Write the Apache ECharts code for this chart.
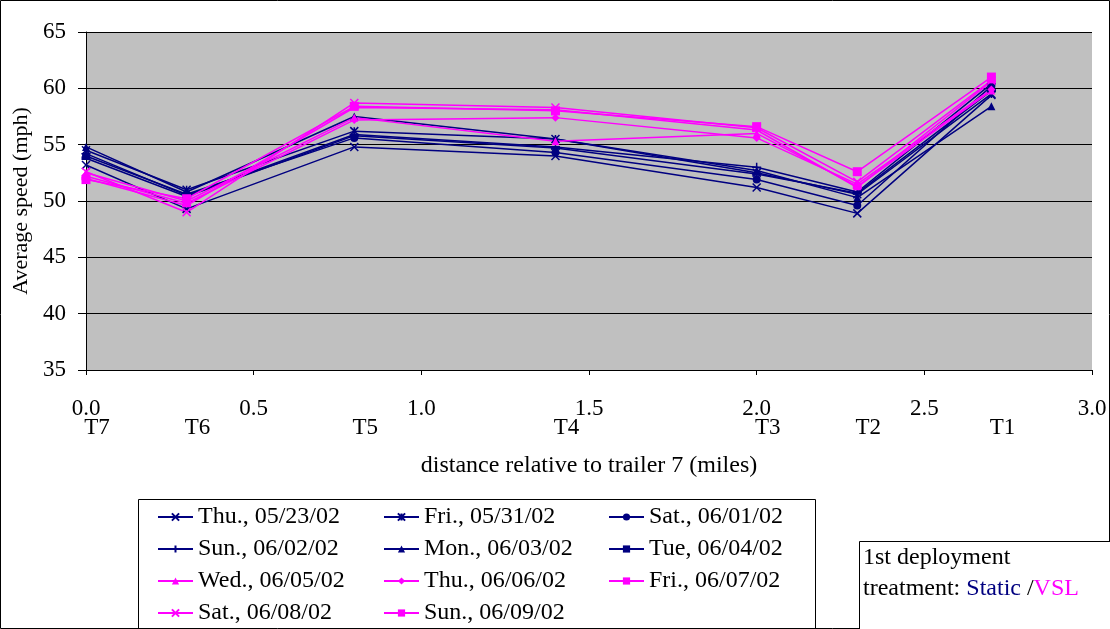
<!DOCTYPE html>
<html>
<head>
<meta charset="utf-8">
<script src="https://cdn.jsdelivr.net/npm/echarts@6/dist/echarts.min.js"></script>
<style>
  html, body { margin: 0; padding: 0; background: #fff; }
  #chart { width: 1110px; height: 629px; }
</style>
</head>
<body>
<div id="chart"></div>
<script>
// trailer positions (miles from trailer 7) and names
const xPositions = [0, 0.3, 0.8, 1.4, 2.0, 2.3, 2.7];
const trailerNames = ["T7", "T6", "T5", "T4", "T3", "T2", "T1"];
const yTicks = [35, 40, 45, 50, 55, 60, 65];

// static treatment days
const thu0523 = [53.2, 49.3, 54.8, 54.0, 51.2, 48.9, 59.4];
const fri0531 = [54.5, 51.0, 56.2, 55.5, 52.5, 50.6, 59.5];
const sat0601 = [54.0, 50.6, 55.6, 54.3, 51.9, 49.6, 60.2];
const sun0602 = [54.2, 50.5, 55.9, 54.8, 53.0, 50.8, 60.4];
const mon0603 = [54.8, 50.8, 57.5, 55.5, 52.7, 50.3, 58.4];
const tue0604 = [53.8, 50.4, 55.8, 54.7, 52.4, 50.7, 59.8];
// VSL treatment days
const wed0605 = [52.5, 50.0, 57.4, 55.3, 56.0, 51.3, 59.8];
const thu0606 = [52.2, 49.8, 57.2, 57.4, 55.6, 51.5, 59.9];
const fri0607 = [51.9, 50.2, 58.4, 58.0, 56.6, 52.6, 61.0];
const sat0608 = [52.6, 49.0, 58.7, 58.3, 56.5, 51.7, 60.7];
const sun0609 = [52.0, 49.6, 58.3, 58.1, 56.3, 51.2, 60.6];

const NAVY = "#000080";
const MAGENTA = "#FF00FF";
const FONT = "'Liberation Serif', 'DejaVu Serif', serif";

const xMark = "path://M0,0L10,10M10,0L0,10";
const starMark = "path://M0,0L10,10M10,0L0,10M5,0L5,10";
const plusMark = "path://M5,0L5,10M0,5L10,5";
const dashMark = "path://M0,0L10,0L10,4L0,4Z";

const seriesDefs = [
  { name: "Thu., 05/23/02", data: thu0523, color: NAVY, symbol: xMark, size: 8, stroke: true },
  { name: "Fri., 05/31/02", data: fri0531, color: NAVY, symbol: starMark, size: 8, stroke: true },
  { name: "Sat., 06/01/02", data: sat0601, color: NAVY, symbol: "circle", size: 8 },
  { name: "Sun., 06/02/02", data: sun0602, color: NAVY, symbol: plusMark, size: 9, stroke: true },
  { name: "Mon., 06/03/02", data: mon0603, color: NAVY, symbol: "triangle", size: 8 },
  { name: "Tue, 06/04/02", data: tue0604, color: NAVY, symbol: dashMark, size: 9 },
  { name: "Wed., 06/05/02", data: wed0605, color: MAGENTA, symbol: "triangle", size: 8 },
  { name: "Thu., 06/06/02", data: thu0606, color: MAGENTA, symbol: "diamond", size: 8 },
  { name: "Fri., 06/07/02", data: fri0607, color: MAGENTA, symbol: "rect", size: 9 },
  { name: "Sat., 06/08/02", data: sat0608, color: MAGENTA, symbol: xMark, size: 8, stroke: true },
  { name: "Sun., 06/09/02", data: sun0609, color: MAGENTA, symbol: dashMark, size: 9 },
];

const series = seriesDefs.map((s) => ({
  name: s.name,
  type: "line",
  data: xPositions.map((x, i) => [x, s.data[i]]),
  symbol: s.symbol,
  symbolSize: s.size,
  symbolKeepAspect: true,
  showAllSymbol: true,
  animation: false,
  lineStyle: { color: s.color, width: 1.5 },
  itemStyle: s.stroke
    ? { color: s.color, borderColor: s.color, borderWidth: 1.5 }
    : { color: s.color },
  emphasis: { disabled: true },
}));

const legendBase = {
  orient: "vertical",
  padding: 0,
  itemWidth: 35,
  itemHeight: 9,
  itemGap: 8,
  top: 505,
  height: 160,
  textStyle: { fontFamily: FONT, fontSize: 24, lineHeight: 24, color: "#000" },
};

const chart = echarts.init(document.getElementById("chart"));
chart.setOption({
  animation: false,
  grid: {
    left: 86,
    top: 32,
    right: 18,
    bottom: 259,
    show: true,
    backgroundColor: "#C0C0C0",
    borderWidth: 0,
  },
  xAxis: [
    {
      type: "value",
      min: 0,
      max: 3,
      interval: 0.5,
      name: "distance relative to trailer 7 (miles)",
      nameLocation: "middle",
      nameGap: 84,
      nameTextStyle: { fontFamily: FONT, fontSize: 24, color: "#000" },
      axisLine: { lineStyle: { color: "#000", width: 1 } },
      axisTick: { show: true, length: 5, lineStyle: { color: "#000" } },
      splitLine: { show: false },
      axisLabel: {
        margin: 27,
        fontFamily: FONT,
        fontSize: 23,
        color: "#000",
        formatter: (v) => v.toFixed(1),
      },
    },
    {
      type: "value",
      min: 0,
      max: 3,
      position: "bottom",
      axisLine: { show: false },
      axisTick: { show: false },
      splitLine: { show: false },
      axisLabel: {
        margin: 46,
        padding: [0, 0, 0, 22],
        fontFamily: FONT,
        fontSize: 23,
        color: "#000",
        customValues: xPositions,
        formatter: (v) => trailerNames[xPositions.indexOf(v)] || "",
      },
    },
  ],
  yAxis: {
    type: "value",
    min: yTicks[0],
    max: yTicks[yTicks.length - 1],
    interval: 5,
    name: "Average speed (mph)",
    nameLocation: "middle",
    nameGap: 52,
    nameTextStyle: { fontFamily: FONT, fontSize: 22, color: "#000" },
    axisLine: { show: true, lineStyle: { color: "#000", width: 1 } },
    axisTick: { show: true, length: 8, lineStyle: { color: "#000" } },
    splitLine: { show: true, lineStyle: { color: "#000", width: 1 } },
    axisLabel: { margin: 20, fontFamily: FONT, fontSize: 23, color: "#000" },
  },
  legend: [
    { ...legendBase, left: 157, data: ["Thu., 05/23/02", "Sun., 06/02/02", "Wed., 06/05/02", "Sat., 06/08/02"] },
    { ...legendBase, left: 383, data: ["Fri., 05/31/02", "Mon., 06/03/02", "Thu., 06/06/02", "Sun., 06/09/02"] },
    { ...legendBase, left: 608, data: ["Sat., 06/01/02", "Tue, 06/04/02", "Fri., 06/07/02"] },
  ],
  graphic: [
    {
      type: "rect",
      shape: { x: 0.5, y: 0.5, width: 1109, height: 628 },
      style: { fill: "none", stroke: "#000", lineWidth: 1 },
      silent: true,
    },
    {
      type: "rect",
      shape: { x: 138.5, y: 499.5, width: 677, height: 140 },
      style: { fill: "none", stroke: "#000", lineWidth: 1 },
      silent: true,
    },
    {
      type: "rect",
      shape: { x: 859.5, y: 541.5, width: 260, height: 100 },
      style: { fill: "#fff", stroke: "#000", lineWidth: 1 },
      silent: true,
    },
    {
      type: "text",
      left: 863,
      top: 542,
      silent: true,
      style: {
        text: "1st deployment\ntreatment: {s|Static} /{v|VSL}",
        fontFamily: FONT,
        fontSize: 24,
        lineHeight: 31,
        fill: "#000",
        rich: {
          s: { fill: NAVY, fontFamily: FONT, fontSize: 24, lineHeight: 31 },
          v: { fill: MAGENTA, fontFamily: FONT, fontSize: 24, lineHeight: 31 },
        },
      },
    },
  ],
  series: series,
});
</script>
</body>
</html>
